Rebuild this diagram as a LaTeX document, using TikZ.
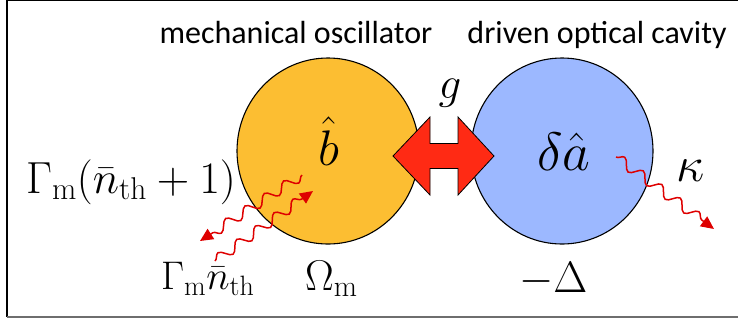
\RequirePackage{fix-cm}
\documentclass[tikz,border=0pt]{standalone}
\usepackage{fontspec}
\newfontfamily\calfont{Carlito}
\usetikzlibrary{decorations.pathmorphing,arrows.meta,shapes.geometric}
\definecolor{orangefill}{RGB}{252,190,50}
\definecolor{bluefill}{RGB}{156,184,255}
\definecolor{arrowred}{RGB}{255,42,20}
\definecolor{wavered}{RGB}{222,0,0}
\definecolor{framegray}{RGB}{110,110,110}
\tikzset{
  mode/.style={ellipse, draw=black, line width=1.1pt, inner sep=0pt, minimum width=182pt, minimum height=186pt},
  title/.style={font=\calfont\fontsize{32}{35}\selectfont, anchor=base, inner sep=0pt},
  mathlbl/.style={font=\fontsize{#1}{#1}\selectfont, inner sep=0pt, anchor=base},
  wave/.style={draw=wavered, line width=1.5pt, decorate,
    decoration={snake, amplitude=5pt, segment length=23pt, post length=9pt},
    -{Triangle[length=13pt,width=12pt]}, fill=none},
}
\begin{document}
\begin{tikzpicture}[x=1pt,y=-1pt]
\useasboundingbox (0,0) rectangle (738,325);
% frame
\draw[black, line width=1.5pt] (7,0) -- (7,317);
\draw[black, line width=1.2pt] (7,0.6) -- (738,0.6);
\draw[framegray, line width=2pt] (7,317) -- (738,317);
% modes
\node[mode, fill=orangefill] (mech) at (328,151) {};
\node[mode, fill=bluefill] (cav) at (562,151) {};
% coupling arrow
\draw[fill=arrowred, draw=black, line width=0.8pt]
  (393,156) -- (430,117) -- (430,143.5) -- (458,143.5) -- (458,117) -- (494,156)
  -- (458,195) -- (458,168.5) -- (430,168.5) -- (430,195) -- cycle;
% titles
\node[title] (tm) at (296,43) {mechanical oscillator};
\node[title] (tc) at (597,43) {driven optical cavity};
% labels
\node[mathlbl=45] (g) at (450,98) {$g$};
\node[mathlbl=50] (b) at (329,165) {$\hat{b}$};
\node[mathlbl=54] (a) at (564,170) {$\delta\hat{a}$};
\node[mathlbl=50] (k) at (691,181) {$\kappa$};
\node[mathlbl=45, anchor=base west] (gup) at (26,193) {$\Gamma_\mathrm{m}(\bar{n}_\mathrm{th}+1)$};
\node[mathlbl=40, anchor=base west] (gdown) at (161,289) {$\Gamma_\mathrm{m}\bar{n}_\mathrm{th}$};
\node[mathlbl=43, anchor=base west] (om) at (305,290) {$\Omega_\mathrm{m}$};
\node[mathlbl=44, anchor=base west] (det) at (519,292) {$-\Delta$};
% waves
\coordinate (w1s) at (302,175);
\coordinate (w1e) at (200,241);
\coordinate (w2s) at (215,261);
\coordinate (w2e) at (313,191);
\coordinate (w3s) at (616,157);
\coordinate (w3e) at (714,229);
\draw[wave] (w1s) -- (w1e);
\draw[wave] (w2s) -- (w2e);
\draw[wave] (w3s) -- (w3e);
\end{tikzpicture}
\end{document}
